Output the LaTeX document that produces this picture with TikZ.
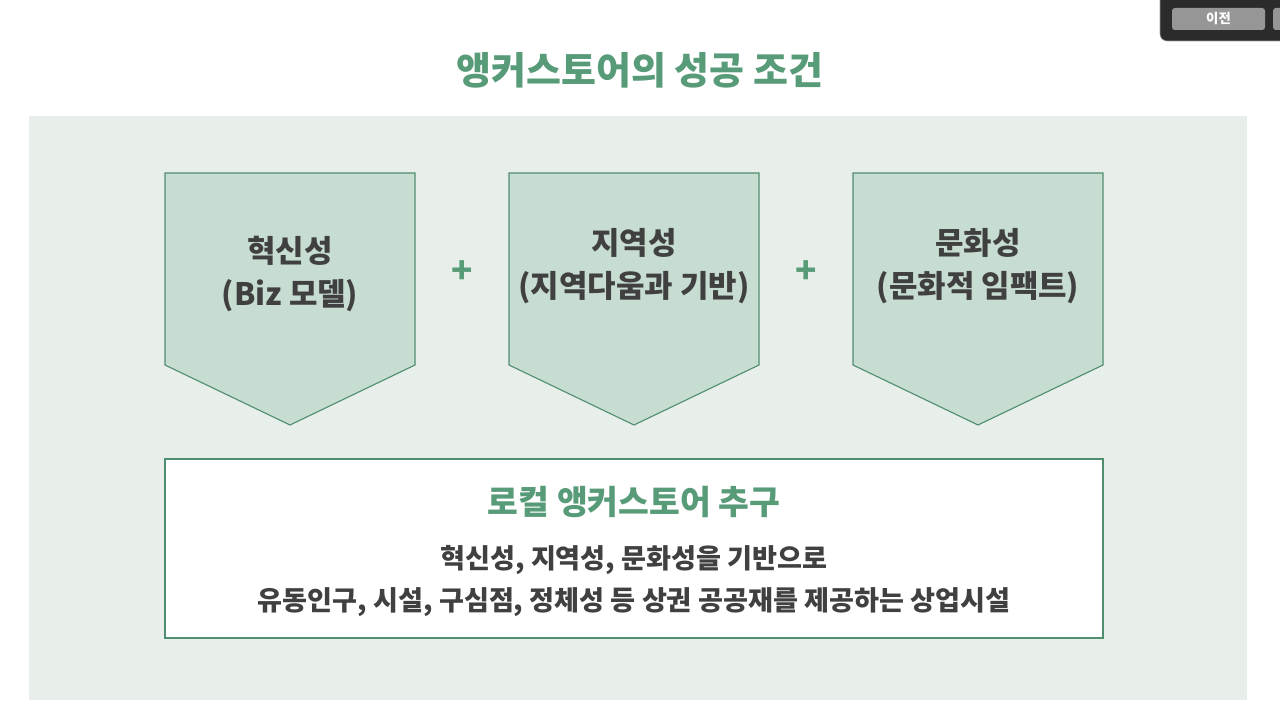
\documentclass[tikz,border=0pt]{standalone}
\usepackage{fontspec}
\setmainfont{Noto Sans CJK KR}
\usetikzlibrary{positioning}
\definecolor{ttlgreen}{RGB}{88,155,120}
\definecolor{pentfill}{RGB}{200,221,210}
\definecolor{pentline}{RGB}{79,143,111}
\definecolor{panelbg}{RGB}{232,239,235}
\definecolor{txtgray}{RGB}{64,64,64}
\definecolor{uidark}{RGB}{43,43,43}
\definecolor{uibtn}{RGB}{150,150,150}

\begin{document}
\begin{tikzpicture}[
    x=0.025cm, y=-0.025cm,
    title/.style={font=\bfseries\fontsize{27}{32}\selectfont, text=ttlgreen},
    tag/.style={font=\bfseries\fontsize{22}{30.5}\selectfont, text=txtgray, align=center},
    pent/.style={fill=pentfill, draw=pentline, line width=0.8pt},
    plussign/.style={font=\bfseries\fontsize{25}{28}\selectfont, text=ttlgreen},
    goalbox/.style={fill=white, draw=pentline, line width=0.8pt},
    goaltext/.style={font=\bfseries\fontsize{19.3}{30.5}\selectfont, text=txtgray, align=center}
]
\useasboundingbox (0,0) rectangle (1280,720);
\fill[white] (0,0) rectangle (1280,720);
%
\node[title] (ttl) at (640,70) {앵커스토어의 성공 조건};
\fill[panelbg] (29,116) rectangle (1247,700);
%
\foreach \cx in {290,634,978}
    \draw[pent] (\cx-125,173) -- (\cx+125,173) -- (\cx+125,365)
        -- (\cx,425) -- (\cx-125,365) -- cycle;
\node[tag] (inno) at (290,274) {혁신성\\(Biz 모델)};
\node[tag] (local) at (634,266) {지역성\\(지역다움과 기반)};
\node[tag] (cult) at (978,266) {문화성\\(문화적 임팩트)};
\node[plussign] (plusa) at (462,272) {+};
\node[plussign] (plusb) at (806,272) {+};
%
\draw[goalbox] (165,459) rectangle (1103,638);
\node[title, font=\bfseries\fontsize{23.8}{28}\selectfont] (goal) at (634,502)
    {로컬 앵커스토어 추구};
\node[goaltext] (desc) at (634,581)
    {혁신성, 지역성, 문화성을 기반으로\\유동인구, 시설, 구심점, 정체성 등 상권 공공재를 제공하는 상업시설};
%
\begin{scope}
\fill[uidark, rounded corners=5pt, draw=black!40] (1160,-10) rectangle (1295,41);
\fill[uibtn, rounded corners=2pt] (1172,8) rectangle (1265,30);
\fill[uibtn, rounded corners=2pt] (1273,8) rectangle (1295,30);
\node[font=\bfseries\fontsize{9.5}{11}\selectfont, text=white] (prev) at (1218.5,19) {이전};
\end{scope}
\end{tikzpicture}
\end{document}
